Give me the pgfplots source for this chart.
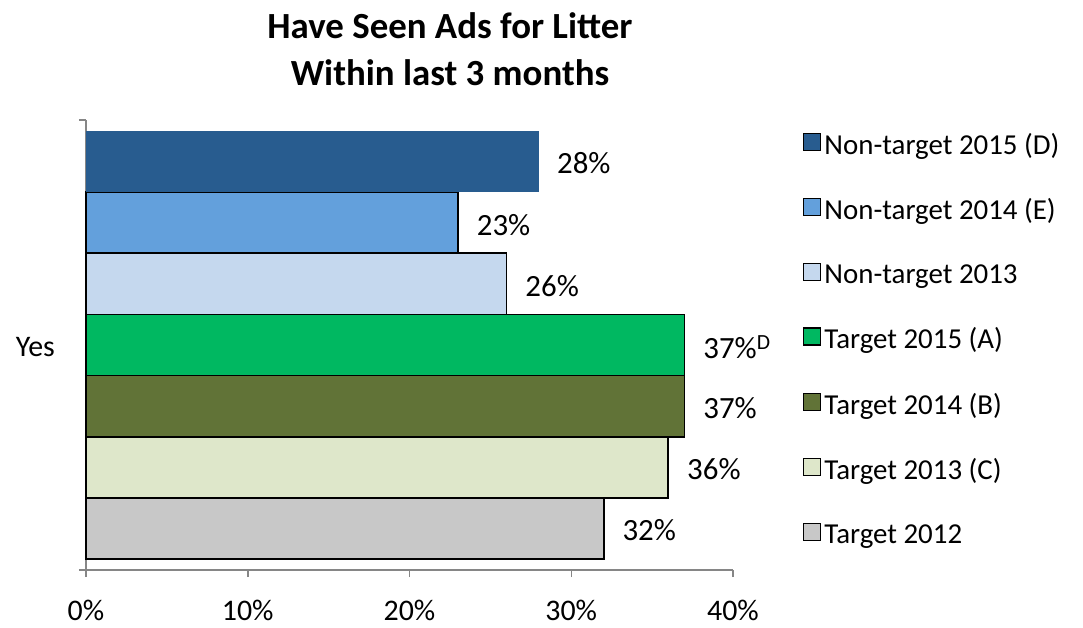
\documentclass[border=0pt]{standalone}
\usepackage{pgfplots}
\pgfplotsset{compat=1.18}
\usepackage{fontspec}
\setmainfont{Carlito}
\definecolor{cN15}{RGB}{40,92,143}
\definecolor{cN14}{RGB}{99,160,220}
\definecolor{cN13}{RGB}{197,216,238}
\definecolor{cT15}{RGB}{0,184,97}
\definecolor{cT14}{RGB}{97,115,55}
\definecolor{cT13}{RGB}{222,231,202}
\definecolor{cT12}{RGB}{200,200,200}
\definecolor{axisgray}{RGB}{134,134,134}
\begin{document}
\begin{tikzpicture}
\useasboundingbox (0bp,0bp) rectangle (1083bp,628bp);
\node[font=\fontsize{37}{47}\selectfont\bfseries, anchor=base, inner sep=0pt] at (450bp,589bp) {Have Seen Ads for Litter};
\node[font=\fontsize{37}{47}\selectfont\bfseries, anchor=base, inner sep=0pt] at (450bp,542bp) {Within last 3 months};
\begin{axis}[
  at={(86bp,58bp)}, anchor=south west,
  scale only axis, width=647bp, height=450bp,
  xbar, bar width=1, bar shift=0pt,
  xmin=0, xmax=40, ymin=-0.68, ymax=6.68,
  axis x line*=bottom, axis y line*=left,
  axis line style={draw=axisgray, line width=1.5bp},
  xtick={0,10,20,30,40},
  xticklabel={\pgfmathprintnumber{\tick}\%},
  ytick={-0.68,6.68}, yticklabels={},
  extra y ticks={3}, extra y tick labels={Yes},
  extra y tick style={major tick length=0pt, yticklabel style={inner sep=0pt, xshift=-31bp, yshift=-2bp}},
  tick align=outside, major tick length=7bp,
  tick style={draw=axisgray, line width=1.5bp},
  ticklabel style={font=\fontsize{30}{36}\selectfont},
  xticklabel style={yshift=-20bp},
  /pgf/number format/assume math mode=true,
  clip=false,
  point meta=x,
  nodes near coords={\pgfmathprintnumber{\pgfplotspointmeta}\%},
  every node near coord/.append style={font=\fontsize{31}{37}\selectfont, inner sep=0pt, xshift=18bp, yshift=-2bp, text=black},
  legend style={at={(1.1075,1.0)}, anchor=north west, draw=none, fill=none,
    font=\fontsize{29}{35}\selectfont, row sep=30bp, inner sep=0pt, nodes={inner ysep=0pt, inner xsep=3.5bp}},
  legend cell align=left,
  legend image code/.code={\path[draw=none,fill=none] (0bp,-10bp) rectangle (0.1bp,24bp);\draw[#1, line width=1.2bp] (0bp,-6bp) rectangle (17bp,11bp);},
  reverse legend,
]
\addplot[fill=cT12, draw=black, line width=1.8bp] coordinates {(32,0)};
\addlegendentry{Target 2012}
\addplot[fill=cT13, draw=black, line width=1.8bp] coordinates {(36,1)};
\addlegendentry{Target 2013 (C)}
\addplot[fill=cT14, draw=black, line width=1.8bp] coordinates {(37,2)};
\addlegendentry{Target 2014 (B)}
\addplot[fill=cT15, draw=black, line width=1.8bp, nodes near coords={37\%\textsuperscript{D}}] coordinates {(37,3)};
\addlegendentry{Target 2015 (A)}
\addplot[fill=cN13, draw=black, line width=1.8bp] coordinates {(26,4)};
\addlegendentry{Non-target 2013}
\addplot[fill=cN14, draw=black, line width=1.8bp] coordinates {(23,5)};
\addlegendentry{Non-target 2014 (E)}
\addplot[fill=cN15, draw=none] coordinates {(28,6)};
\addlegendentry{Non-target 2015 (D)}
\end{axis}
\end{tikzpicture}
\end{document}
